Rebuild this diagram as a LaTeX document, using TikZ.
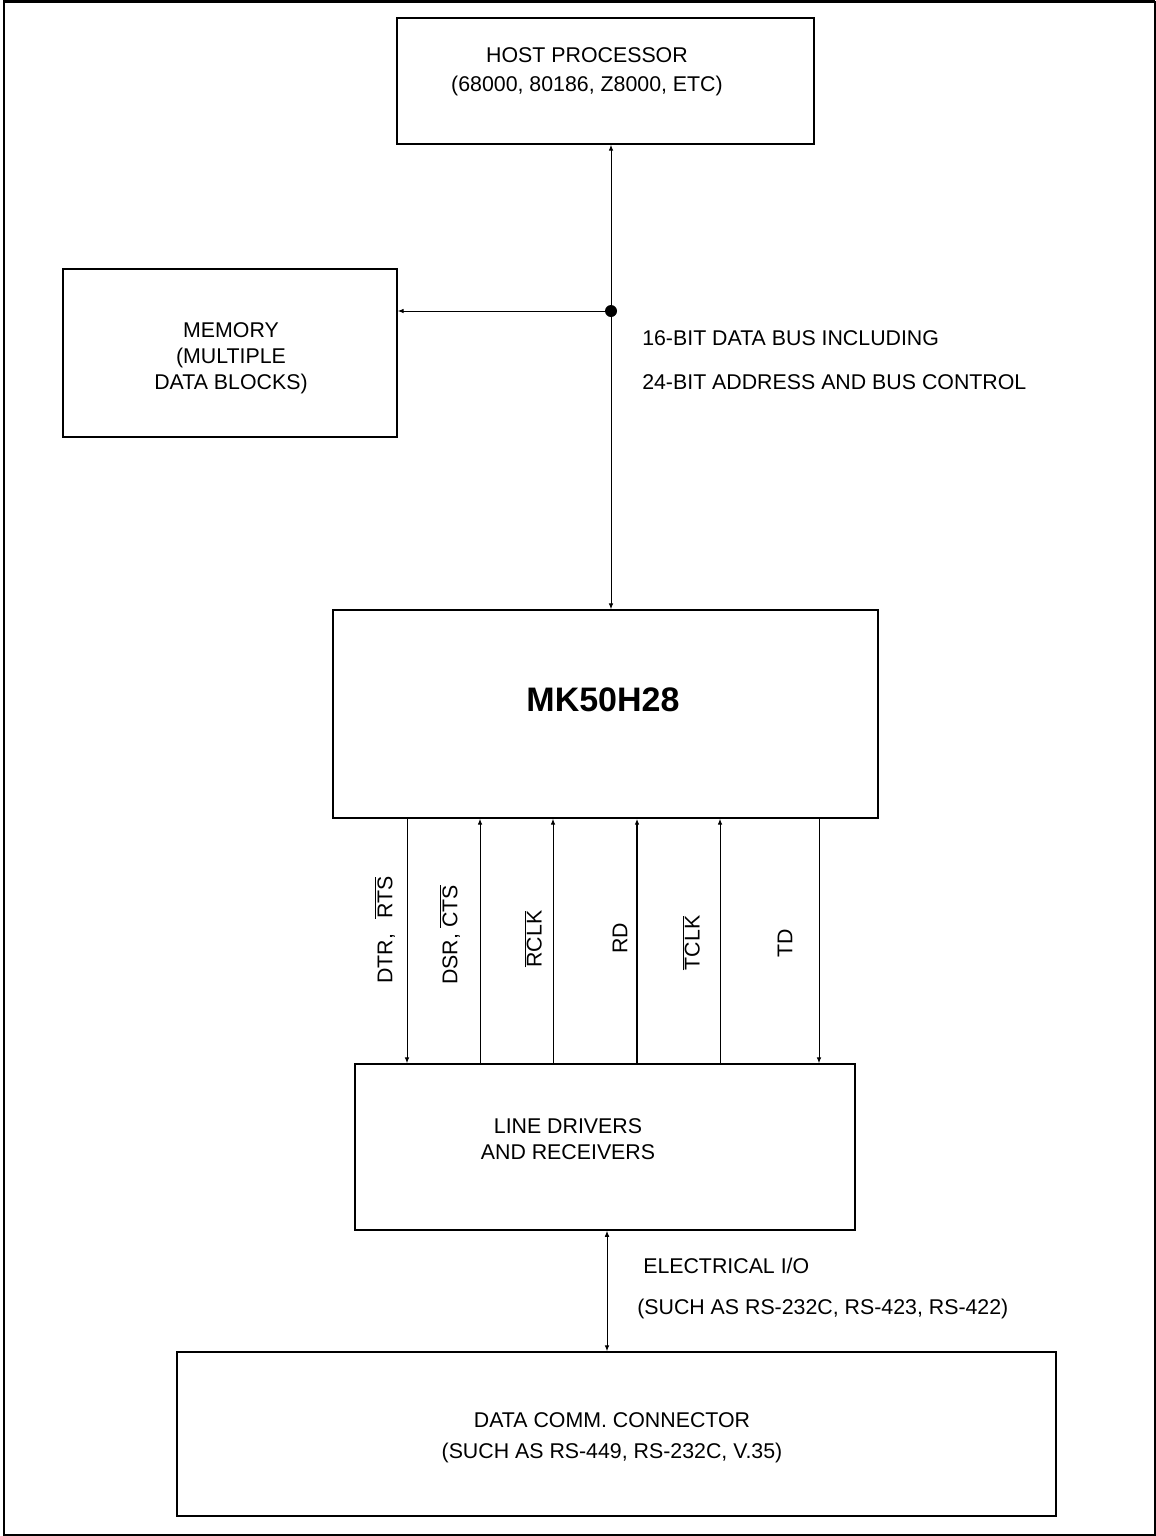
\documentclass[tikz,border=0pt]{standalone}
\usepackage{fontspec}
\setmainfont{Liberation Sans}
\usetikzlibrary{arrows.meta}
\begin{document}
\begin{tikzpicture}[x=0.75pt,y=-0.75pt,
  box/.style={draw, line width=1.1pt, inner sep=0pt},
  txt/.style={inner sep=0pt, align=center, font=\fontsize{16}{21.75}\selectfont},
  conn/.style={line width=0.75pt},
  thickconn/.style={line width=1.3pt},
  tip/.style={-{Latex[length=4.5pt,width=3.5pt]}},
  bitip/.style={{Latex[length=4.5pt,width=3.5pt]}-{Latex[length=4.5pt,width=3.5pt]}}
]
\useasboundingbox (0,0) rectangle (1156,1536);
% frame
\draw[line width=1.2pt] (4,1.5) rectangle (1155,1535);
\draw[line width=2.2pt] (4,1536) -- (4,1.5) -- (1155,1.5);

% boxes
\node[box, minimum width=312.75pt, minimum height=94.5pt] (host) at (605.5,81) {};
\node[box, minimum width=250.5pt, minimum height=126pt] (mem) at (230,353) {};
\node[box, minimum width=408.75pt, minimum height=156pt] (mk) at (605.5,714) {};
\node[box, minimum width=375pt, minimum height=124.5pt] (ld) at (605,1147) {};
\node[box, minimum width=659.25pt, minimum height=123pt] (dc) at (616.5,1434) {};

% box texts
\node[txt] (hostt) at (587,72) {HOST PROCESSOR\\(68000, 80186, Z8000, ETC)};
\node[txt, font=\fontsize{16}{19.5}\selectfont] (memt) at (231,358) {MEMORY\\(MULTIPLE\\DATA BLOCKS)};
\node[txt, font=\fontsize{25.5}{30}\selectfont\bfseries] (mkt) at (603,700) {MK50H28};
\node[txt, font=\fontsize{16}{19.5}\selectfont] (ldt) at (568,1139) {LINE DRIVERS\\AND RECEIVERS};
\node[txt, font=\fontsize{16}{23.5}\selectfont] (dct) at (612,1438) {DATA COMM. CONNECTOR\\(SUCH AS RS-449, RS-232C, V.35)};

% bus
\coordinate (dot) at (611,311);
\draw[conn, bitip] (dot |- host.south) -- (dot |- mk.north);
\draw[conn, tip] (dot) -- (dot -| mem.east);
\fill (dot) circle (4.5pt);
\node[txt, anchor=west] (bus1) at (642,338) {16-BIT DATA BUS INCLUDING};
\node[txt, anchor=west] (bus2) at (642,382) {24-BIT ADDRESS AND BUS CONTROL};

% signal lines
\coordinate (s1) at (407,0);
\coordinate (s2) at (480,0);
\coordinate (s3) at (553,0);
\coordinate (s4) at (637,0);
\coordinate (s5) at (720,0);
\coordinate (s6) at (819,0);
\draw[conn, tip] (s1 |- mk.south) -- (s1 |- ld.north);
\draw[conn, tip] (s2 |- ld.north) -- (s2 |- mk.south);
\draw[conn, tip] (s3 |- ld.north) -- (s3 |- mk.south);
\draw[thickconn, tip] (s4 |- ld.north) -- (s4 |- mk.south);
\draw[conn, tip] (s5 |- ld.north) -- (s5 |- mk.south);
\draw[conn, tip] (s6 |- mk.south) -- (s6 |- ld.north);

\node[txt, rotate=90] (l1) at (385,930) {DTR,\hspace{0.7em}$\overline{\hbox{RTS}}$};
\node[txt, rotate=90] (l2) at (450,935) {DSR, $\overline{\hbox{CTS}}$};
\node[txt, rotate=90] (l3) at (533,939) {$\overline{\hbox{RCLK}}$};
\node[txt, rotate=90] (l4) at (620,938) {RD};
\node[txt, rotate=90] (l5) at (691,943) {$\overline{\hbox{TCLK}}$};
\node[txt, rotate=90] (l6) at (785,943) {TD};

% electrical I/O
\coordinate (e) at (607,0);
\draw[conn, bitip] (e |- ld.south) -- (e |- dc.north);
\node[txt, anchor=west] (eio) at (643,1266) {ELECTRICAL I/O};
\node[txt, anchor=west] (eio2) at (637,1309) {(SUCH AS RS-232C, RS-423, RS-422)};
\end{tikzpicture}
\end{document}
